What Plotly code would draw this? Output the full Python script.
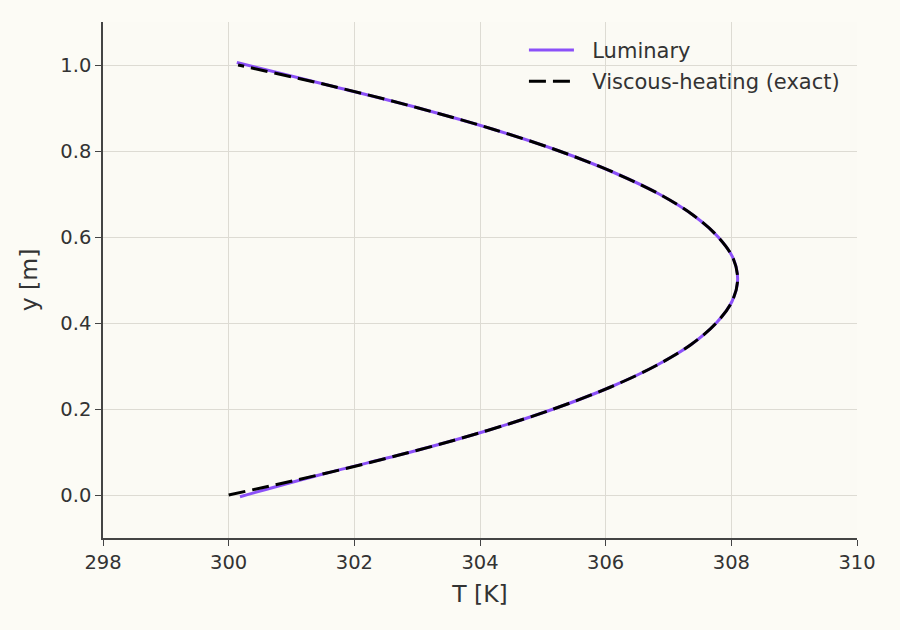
import plotly.graph_objects as go

# wall-normal coordinate [m]
y_vals = [0.00, 0.05, 0.10, 0.15, 0.20, 0.25, 0.30, 0.35, 0.40, 0.45, 0.50,
          0.55, 0.60, 0.65, 0.70, 0.75, 0.80, 0.85, 0.90, 0.95, 1.00]

# exact viscous-heating profile [K]
T_exact = [300.00, 301.53, 302.90, 304.12, 305.17, 306.06, 306.79, 307.36, 307.76, 308.01, 308.10,
           308.03, 307.79, 307.40, 306.85, 306.13, 305.26, 304.22, 303.02, 301.67, 300.15]

# Luminary solution (nearly on top of the exact one) [K]
y_lum = [-0.004, 0.05, 0.10, 0.15, 0.20, 0.25, 0.30, 0.35, 0.40, 0.45, 0.50,
         0.55, 0.60, 0.65, 0.70, 0.75, 0.80, 0.85, 0.90, 0.95, 1.006]
T_lum = [300.18, 301.53, 302.90, 304.12, 305.17, 306.06, 306.79, 307.36, 307.76, 308.01, 308.10,
         308.03, 307.79, 307.40, 306.85, 306.13, 305.26, 304.22, 303.02, 301.67, 300.13]

x_ticks = [298, 300, 302, 304, 306, 308, 310]
y_ticks = [0.0, 0.2, 0.4, 0.6, 0.8, 1.0]

pad = "\u00a0\u00a0"  # gap between legend line and label

fig = go.Figure()
fig.add_trace(go.Scatter(x=T_lum, y=y_lum, mode="lines", name=pad + "Luminary", legendgroup="a",
                         line=dict(color="#8b50f8", width=3, shape="spline")))
fig.add_trace(go.Scatter(x=T_exact, y=y_vals, mode="lines", name=pad + "Viscous-heating (exact)",
                         legendgroup="b",
                         line=dict(color="black", width=3, dash="17px,7px", shape="spline")))

axis_style = dict(showline=True, linecolor="#444", linewidth=1.5, ticks="outside",
                  ticklen=6, tickcolor="#444", showgrid=True, gridcolor="#dddbd3",
                  gridwidth=1, zeroline=False, mirror=False,
                  tickfont=dict(size=19.5, color="#333"))

fig.update_xaxes(range=[298, 310], tickvals=x_ticks,
                 title=dict(text="T [K]", font=dict(size=23.5, color="#333"), standoff=12),
                 **axis_style)
fig.update_yaxes(range=[-0.1, 1.1], tickvals=y_ticks, tickformat=".1f",
                 title=dict(text="y [m]", font=dict(size=23.5, color="#333"), standoff=16),
                 **axis_style)

fig.update_layout(
    width=900, height=630,
    margin=dict(l=103, r=43, t=22, b=92),
    paper_bgcolor="#fcfbf5",
    plot_bgcolor="#fbfaf4",
    font=dict(family="DejaVu Sans", color="#333"),
    legend=dict(x=0.984, y=0.985, xanchor="right", yanchor="top",
                traceorder="grouped", tracegroupgap=1, itemwidth=45,
                bgcolor="rgba(0,0,0,0)", font=dict(size=21, color="#333")),
)

fig.write_html("out.html", config={"displayModeBar": False},
               post_script="document.body.style.margin='0';"
                           "document.body.style.background='#fcfbf5';")
